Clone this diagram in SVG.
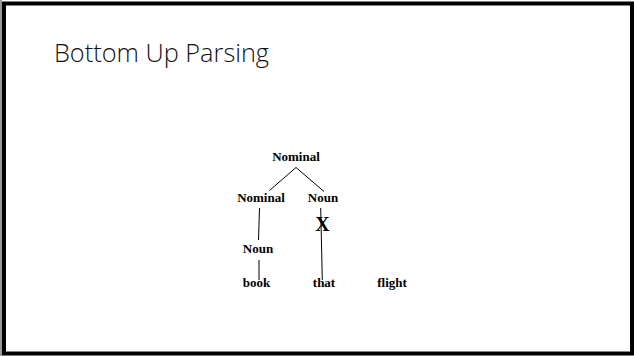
<svg xmlns="http://www.w3.org/2000/svg" width="634" height="356" viewBox="0 0 634 356">
<style>
.t{font-family:"Liberation Serif","Times New Roman",serif;font-weight:bold;font-size:13px;fill:#000;text-anchor:middle}
.e{stroke:#000;stroke-width:1;fill:none}
</style>
<rect width="634" height="356" fill="#fff"/>
<line x1="1" y1="0" x2="1" y2="356" stroke="#999" stroke-width="2"/>
<rect x="4" y="3.5" width="628" height="350" fill="none" stroke="#000" stroke-width="4"/>
<text x="54" y="62" font-family="'Open Sans',sans-serif" font-weight="300" font-size="25" fill="#111" textLength="215" lengthAdjust="spacingAndGlyphs">Bottom Up Parsing</text>
<g id="connectors">
<line class="e" x1="296" y1="167.5" x2="269.5" y2="190.5"/>
<line class="e" x1="296" y1="167.5" x2="324" y2="191.5"/>
<line class="e" x1="259.5" y1="208" x2="258.5" y2="240"/>
<line class="e" x1="259" y1="260" x2="259" y2="280"/>
<line class="e" x1="320.7" y1="208" x2="322.3" y2="280"/>
</g>
<g id="n-nominal-top"><text class="t" x="296" y="161">Nominal</text></g>
<g id="n-nominal"><text class="t" x="261" y="202">Nominal</text></g>
<g id="n-noun-right"><text class="t" x="323" y="202">Noun</text></g>
<g id="n-x"><text class="t" x="322.5" y="231" style="font-size:20px">X</text></g>
<g id="n-noun"><text class="t" x="258" y="253">Noun</text></g>
<g id="n-book"><text class="t" x="256.5" y="287">book</text></g>
<g id="n-that"><text class="t" x="324" y="287">that</text></g>
<g id="n-flight"><text class="t" x="392" y="287">flight</text></g>
</svg>
